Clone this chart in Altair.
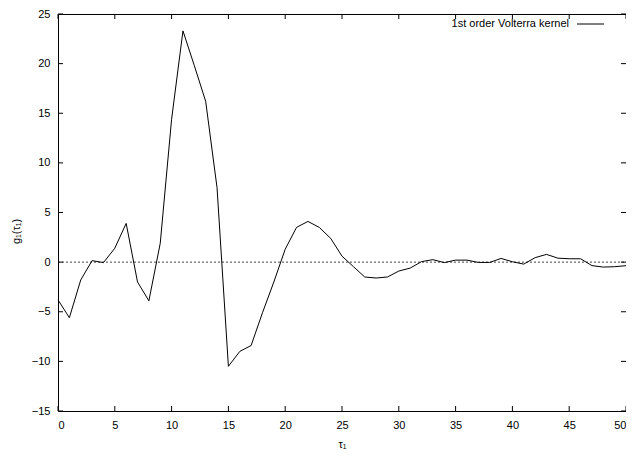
import altair as alt
import pandas as pd

tau = list(range(0, 51))
g1 = [-3.8, -5.6, -1.8, 0.15, -0.05, 1.4, 3.9, -2.0, -3.9, 1.9,
      14.4, 23.3, 19.8, 16.2, 7.5, -10.5, -9.0, -8.4, -5.1, -2.0,
      1.3, 3.5, 4.1, 3.5, 2.4, 0.6, -0.45, -1.5, -1.6, -1.5,
      -0.9, -0.6, 0.05, 0.25, -0.05, 0.2, 0.2, -0.03, -0.03, 0.37,
      0.04, -0.2, 0.45, 0.78, 0.4, 0.34, 0.34, -0.35, -0.5, -0.46, -0.36]

x_ticks = list(range(0, 51, 5))
y_ticks = list(range(-15, 26, 5))
legend_label = "1st order Volterra kernel"

W, H = 568, 397
FONT = "Liberation Sans"

df = pd.DataFrame({"tau": tau, "g": g1})
xt = pd.DataFrame({"t": x_ticks})
yt = pd.DataFrame({"t": y_ticks})

xscale = alt.Scale(domain=[0, 50], nice=False, zero=False)
yscale = alt.Scale(domain=[-15, 25], nice=False, zero=False)

xaxis = alt.Axis(values=x_ticks, title="τ₁", ticks=False, domain=False, grid=False,
                 labelPadding=8, titlePadding=8, labelFontSize=11, titleFontSize=11,
                 labelFont=FONT, titleFont=FONT, titleFontWeight="normal",
                 labelColor="#000", titleColor="#000")
yaxis = alt.Axis(values=y_ticks, title="g₁(τ₁)", ticks=False, domain=False, grid=False,
                 labelPadding=8, labelFontSize=11, titleFontSize=11,
                 labelFont=FONT, titleFont=FONT, titleFontWeight="normal",
                 labelColor="#000", titleColor="#000", titleX=-42, titleY=217,
                 titleBaseline="middle")

line = alt.Chart(df).mark_line(color="#000", strokeWidth=1).encode(
    x=alt.X("tau:Q", scale=xscale, axis=xaxis),
    y=alt.Y("g:Q", scale=yscale, axis=yaxis),
)

zero = alt.Chart(pd.DataFrame({"y": [0]})).mark_rule(
    color="#444", strokeWidth=1, strokeDash=[2, 2]
).encode(y=alt.Y("y:Q", scale=yscale), x=alt.value(0), x2=alt.value(W))

tick_style = dict(color="#000", strokeWidth=1)
xb = alt.Chart(xt).mark_rule(**tick_style).encode(
    x=alt.X("t:Q", scale=xscale), y=alt.value(H), y2=alt.value(H - 5))
xtop = alt.Chart(xt).mark_rule(**tick_style).encode(
    x=alt.X("t:Q", scale=xscale), y=alt.value(0), y2=alt.value(5))
yl = alt.Chart(yt).mark_rule(**tick_style).encode(
    y=alt.Y("t:Q", scale=yscale), x=alt.value(0), x2=alt.value(5))
yr = alt.Chart(yt).mark_rule(**tick_style).encode(
    y=alt.Y("t:Q", scale=yscale), x=alt.value(W), x2=alt.value(W - 5))

key_text = alt.Chart(pd.DataFrame({"label": [legend_label]})).mark_text(
    align="right", baseline="middle", fontSize=11, font=FONT, color="#000"
).encode(text="label:N", x=alt.value(511), y=alt.value(10))
key_line = alt.Chart(pd.DataFrame({"label": [legend_label]})).mark_rule(
    color="#000", strokeWidth=1
).encode(x=alt.value(519), x2=alt.value(546), y=alt.value(10))

chart = alt.layer(zero, line, xb, xtop, yl, yr, key_text, key_line).properties(
    width=W, height=H,
    autosize=alt.AutoSizeParams(type="none"),
    padding={"left": 50, "top": 6, "right": 0, "bottom": 38},
    background="white",
).configure_view(stroke="#000", strokeWidth=1)

chart.save("out.html", embed_options={"renderer": "svg", "actions": False})
